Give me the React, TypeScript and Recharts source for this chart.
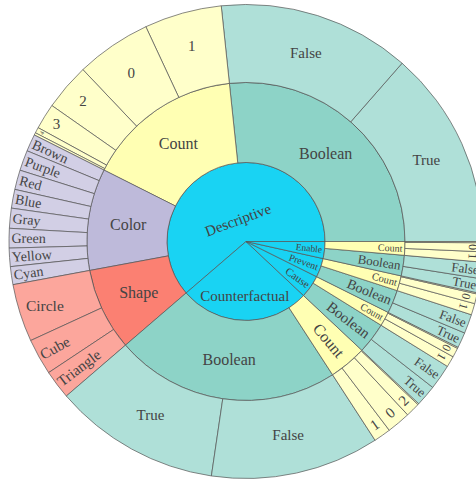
import React from 'react';
import { PieChart, Pie, Cell } from 'recharts';

type Item = { name: string; value: number };

// Outer ring leaves, listed counter-clockwise starting at 3 o'clock (values read as degrees of arc)
const descBooleanLeaves: Item[] = [
  { name: 'True', value: 48.8 },
  { name: 'False', value: 47.2 },
];
const descCountLeaves: Item[] = [
  { name: '1', value: 19.0 },
  { name: '0', value: 18.5 },
  { name: '2', value: 11.5 },
  { name: '3', value: 6.3 },
  { name: '4', value: 1.4 },
  { name: '5', value: 0.6 },
];
const colorLeaves: Item[] = [
  { name: 'Brown', value: 4.2 },
  { name: 'Purple', value: 5.0 },
  { name: 'Red', value: 4.8 },
  { name: 'Blue', value: 4.6 },
  { name: 'Gray', value: 4.9 },
  { name: 'Green', value: 4.8 },
  { name: 'Yellow', value: 4.5 },
  { name: 'Cyan', value: 4.4 },
];
const shapeLeaves: Item[] = [
  { name: 'Circle', value: 14.2 },
  { name: 'Cube', value: 8.9 },
  { name: 'Triangle', value: 7.1 },
];
const cfBooleanLeaves: Item[] = [
  { name: 'True', value: 40.9 },
  { name: 'False', value: 41.4 },
];
const cfCountLeaves: Item[] = [
  { name: '1', value: 4.2 },
  { name: '0', value: 5.8 },
  { name: '2', value: 3.5 },
  { name: '3', value: 0.3 },
];
const causeBooleanLeaves: Item[] = [
  { name: 'True', value: 5.2 },
  { name: 'False', value: 6.2 },
];
const causeCountLeaves: Item[] = [
  { name: '1', value: 2.7 },
  { name: '0', value: 2.3 },
  { name: '2', value: 0.3 },
];
const preventBooleanLeaves: Item[] = [
  { name: 'True', value: 3.8 },
  { name: 'False', value: 4.7 },
];
const preventCountLeaves: Item[] = [
  { name: '1', value: 2.8 },
  { name: '0', value: 2.4 },
  { name: '2', value: 0.3 },
];
const enableBooleanLeaves: Item[] = [
  { name: 'True', value: 3.5 },
  { name: 'False', value: 4.0 },
];
const enableCountLeaves: Item[] = [
  { name: '1', value: 2.5 },
  { name: '0', value: 2.2 },
  { name: '2', value: 0.3 },
];

// Hierarchy: inner group -> middle category -> leaves
const topNames = ['Descriptive', 'Counterfactual', 'Cause', 'Prevent', 'Enable'];
const groups: { top: string; name: string; leaves: Item[] }[] = [
  { top: 'Descriptive', name: 'Boolean', leaves: descBooleanLeaves },
  { top: 'Descriptive', name: 'Count', leaves: descCountLeaves },
  { top: 'Descriptive', name: 'Color', leaves: colorLeaves },
  { top: 'Descriptive', name: 'Shape', leaves: shapeLeaves },
  { top: 'Counterfactual', name: 'Boolean', leaves: cfBooleanLeaves },
  { top: 'Counterfactual', name: 'Count', leaves: cfCountLeaves },
  { top: 'Cause', name: 'Boolean', leaves: causeBooleanLeaves },
  { top: 'Cause', name: 'Count', leaves: causeCountLeaves },
  { top: 'Prevent', name: 'Boolean', leaves: preventBooleanLeaves },
  { top: 'Prevent', name: 'Count', leaves: preventCountLeaves },
  { top: 'Enable', name: 'Boolean', leaves: enableBooleanLeaves },
  { top: 'Enable', name: 'Count', leaves: enableCountLeaves },
];

const sum = (a: Item[]) => a.reduce((s, d) => s + d.value, 0);
const ring3 = groups.flatMap((g) => g.leaves);
const ring2 = groups.map((g) => ({ name: g.name, value: sum(g.leaves) }));
const ring1 = topNames.map((t) => ({
  name: t,
  value: groups.filter((g) => g.top === t).reduce((s, g) => s + sum(g.leaves), 0),
}));

// ---- styles ----
const CENTER = '#19d3f3';
const MID_FILL: Record<string, string> = {
  Boolean: '#8dd3c7',
  Count: '#ffffb3',
  Color: '#bebada',
  Shape: '#fb8072',
};
const OUTER_FILL: Record<string, string> = {
  Boolean: '#afe0d8',
  Count: '#ffffca',
  Color: '#d2cfe5',
  Shape: '#fca69c',
};
const FONT = "'Liberation Serif', 'Times New Roman', Times, serif";
const TEXT = '#444';

type Spec = { o: 'h' | 'r' | 't'; fs: number; r?: number; keep?: boolean } | null;

const ring1Specs: Spec[] = [
  { o: 't', fs: 15, r: 23 },
  { o: 'h', fs: 15, r: 55 },
  { o: 'r', fs: 11 },
  { o: 'r', fs: 10 },
  { o: 'r', fs: 9.5 },
];
const ring2Specs: Spec[] = [
  { o: 'h', fs: 16 },
  { o: 'h', fs: 16 },
  { o: 'h', fs: 16 },
  { o: 'h', fs: 16 },
  { o: 'h', fs: 16 },
  { o: 'r', fs: 16, r: 129 },
  { o: 'r', fs: 15, r: 129 },
  { o: 'r', fs: 10 },
  { o: 'r', fs: 14 },
  { o: 'r', fs: 10.5 },
  { o: 'r', fs: 13 },
  { o: 'r', fs: 10 },
];
const tiny = { o: 't', fs: 12, r: 227, keep: true } as Spec;
const ring3GroupSpecs: Spec[][] = [
  [{ o: 'h', fs: 15 }, { o: 'h', fs: 15 }],
  [
    { o: 'h', fs: 15, r: 203 },
    { o: 'h', fs: 15, r: 204 },
    { o: 'h', fs: 15, r: 215 },
    { o: 'h', fs: 15, r: 223 },
    { o: 't', fs: 6, r: 231 },
    null,
  ],
  Array(8).fill({ o: 'r', fs: 14 }),
  [{ o: 'h', fs: 15.5, r: 211 }, { o: 'r', fs: 15 }, { o: 'r', fs: 15 }],
  [{ o: 'h', fs: 15 }, { o: 'h', fs: 15 }],
  [{ o: 't', fs: 15, r: 224 }, { o: 't', fs: 15, r: 224 }, { o: 't', fs: 15, r: 224 }, null],
  Array(2).fill({ o: 'r', fs: 13 }),
  [tiny, tiny, null],
  Array(2).fill({ o: 'r', fs: 13 }),
  [tiny, tiny, null],
  Array(2).fill({ o: 'r', fs: 13 }),
  [tiny, tiny, null],
];
const ring3Specs: Spec[] = ring3GroupSpecs.flat();
const ring3Fills = groups.flatMap((g) => g.leaves.map(() => OUTER_FILL[g.name]));

const RAD = Math.PI / 180;
function norm(a: number, keep = false) {
  let x = ((a % 360) + 360) % 360;
  if (x > 180) x -= 360;
  if (keep) return x;
  if (x > 90) x -= 180;
  else if (x <= -90) x += 180;
  return x;
}

const makeLabel = (specs: Spec[]) => (props: any) => {
  const { cx, cy, midAngle, innerRadius, outerRadius, index } = props;
  const spec = specs[index];
  if (!spec) return null;
  const name = props.payload?.name ?? props.name;
  const theta = midAngle;
  const mid = (innerRadius + outerRadius) / 2;
  let rot = 0;
  let r = spec.r ?? mid;
  let anchor: 'middle' | 'start' | 'end' = 'middle';
  if (spec.o === 't') {
    rot = norm(90 - theta, !!spec.keep);
  } else if (spec.o === 'r') {
    rot = norm(-theta);
    if (spec.r === undefined) {
      r = outerRadius - 2.5;
      anchor = Math.cos(theta * RAD) >= 0 ? 'end' : 'start';
    }
  }
  const x = cx + r * Math.cos(-theta * RAD);
  const y = cy + r * Math.sin(-theta * RAD);
  return (
    <text
      key={`l-${index}`}
      x={x}
      y={y}
      transform={`rotate(${rot} ${x} ${y})`}
      textAnchor={anchor}
      dominantBaseline="central"
      fontSize={spec.fs}
      fontFamily={FONT}
      fill={TEXT}
    >
      {name}
    </text>
  );
};

const CX = 246;
const CY = 241.5;

export default function App() {
  return (
    <div style={{ position: 'absolute', left: 0, top: 0, width: 476, height: 482, background: '#fff' }}>
      <PieChart width={476} height={482} margin={{ top: 0, right: 0, bottom: 0, left: 0 }}>
        <Pie
          data={ring1}
          dataKey="value"
          nameKey="name"
          cx={CX}
          cy={CY}
          innerRadius={0}
          outerRadius={79}
          startAngle={0}
          endAngle={360}
          stroke="#555"
          strokeWidth={0.7}
          isAnimationActive={false}
          labelLine={false}
          label={makeLabel(ring1Specs)}
        >
          {ring1.map((_, i) => (
            <Cell key={i} fill={CENTER} />
          ))}
        </Pie>
        <Pie
          data={ring2}
          dataKey="value"
          nameKey="name"
          cx={CX}
          cy={CY}
          innerRadius={79}
          outerRadius={159}
          startAngle={0}
          endAngle={360}
          stroke="#555"
          strokeWidth={0.7}
          isAnimationActive={false}
          labelLine={false}
          label={makeLabel(ring2Specs)}
        >
          {ring2.map((d, i) => (
            <Cell key={i} fill={MID_FILL[d.name]} />
          ))}
        </Pie>
        <Pie
          data={ring3}
          dataKey="value"
          nameKey="name"
          cx={CX}
          cy={CY}
          innerRadius={159}
          outerRadius={237}
          startAngle={0}
          endAngle={360}
          stroke="#555"
          strokeWidth={0.7}
          isAnimationActive={false}
          labelLine={false}
          label={makeLabel(ring3Specs)}
        >
          {ring3.map((_, i) => (
            <Cell key={i} fill={ring3Fills[i]} />
          ))}
        </Pie>
      </PieChart>
    </div>
  );
}
